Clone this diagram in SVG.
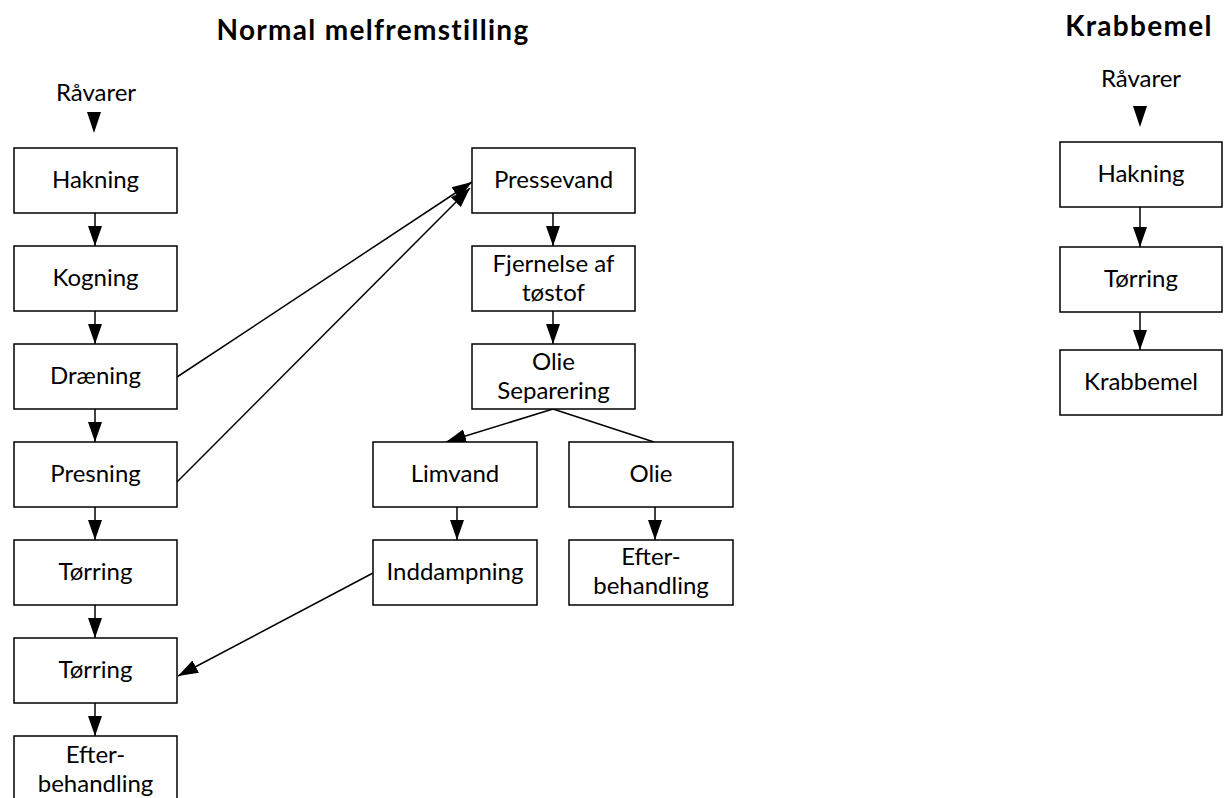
<svg xmlns="http://www.w3.org/2000/svg" width="1224" height="798" viewBox="0 0 1224 798">
<defs>
<style>
.box{fill:#fff;stroke:#000;stroke-width:1.5}
.t{font-family:Lato,"Open Sans",sans-serif;font-size:24px;fill:#000;text-anchor:middle}
.h{font-family:Lato,"Open Sans",sans-serif;font-size:28px;font-weight:bold;letter-spacing:1.3px;fill:#000;text-anchor:middle}
.c{fill:none;stroke:#000;stroke-width:1.5}
.tri{fill:#000}
</style>
<marker id="ah" markerUnits="userSpaceOnUse" markerWidth="20" markerHeight="16" viewBox="0 0 20 16" refX="20" refY="8" orient="auto">
<path d="M0,1 L20,8 L0,15 z" fill="#000"/>
</marker>
</defs>
<rect width="1224" height="798" fill="#fff"/>

<text class="h" x="373" y="40">Normal melfremstilling</text>
<text class="h" x="1139" y="36">Krabbemel</text>
<text class="t" x="96" y="101">Råvarer</text>
<text class="t" x="1141" y="87">Råvarer</text>

<g id="connectors">
<polygon class="tri" points="87,112 101,112 94,133"/>
<polygon class="tri" points="1133,106 1147,106 1140,127"/>
<line class="c" x1="95" y1="213" x2="95" y2="246" marker-end="url(#ah)"/>
<line class="c" x1="95" y1="311" x2="95" y2="344" marker-end="url(#ah)"/>
<line class="c" x1="95" y1="409" x2="95" y2="442" marker-end="url(#ah)"/>
<line class="c" x1="95" y1="507" x2="95" y2="540" marker-end="url(#ah)"/>
<line class="c" x1="95" y1="605" x2="95" y2="638" marker-end="url(#ah)"/>
<line class="c" x1="95" y1="703" x2="95" y2="736" marker-end="url(#ah)"/>
<line class="c" x1="553" y1="213" x2="553" y2="246" marker-end="url(#ah)"/>
<line class="c" x1="553" y1="311" x2="553" y2="344" marker-end="url(#ah)"/>
<line class="c" x1="553" y1="409" x2="446" y2="442" marker-end="url(#ah)"/>
<line class="c" x1="553" y1="409" x2="654" y2="442"/>
<line class="c" x1="457" y1="507" x2="457" y2="540" marker-end="url(#ah)"/>
<line class="c" x1="655" y1="507" x2="655" y2="540" marker-end="url(#ah)"/>
<line class="c" x1="177" y1="377" x2="472" y2="182" marker-end="url(#ah)"/>
<line class="c" x1="177" y1="482" x2="470" y2="188" marker-end="url(#ah)"/>
<line class="c" x1="373" y1="573" x2="178" y2="676" marker-end="url(#ah)"/>
<line class="c" x1="1140" y1="207" x2="1140" y2="247" marker-end="url(#ah)"/>
<line class="c" x1="1140" y1="312" x2="1140" y2="350" marker-end="url(#ah)"/>
</g>

<g id="hakning"><rect class="box" x="14" y="148" width="163" height="65"/><text class="t" x="95.5" y="188">Hakning</text></g>
<g id="kogning"><rect class="box" x="14" y="246" width="163" height="65"/><text class="t" x="95.5" y="286">Kogning</text></g>
<g id="draening"><rect class="box" x="14" y="344" width="163" height="65"/><text class="t" x="95.5" y="384">Dræning</text></g>
<g id="presning"><rect class="box" x="14" y="442" width="163" height="65"/><text class="t" x="95.5" y="482">Presning</text></g>
<g id="torring1"><rect class="box" x="14" y="540" width="163" height="65"/><text class="t" x="95.5" y="580">Tørring</text></g>
<g id="torring2"><rect class="box" x="14" y="638" width="163" height="65"/><text class="t" x="95.5" y="678">Tørring</text></g>
<g id="efterbehandling1"><rect class="box" x="14" y="736" width="163" height="65"/><text class="t" x="95.5" y="763">Efter-</text><text class="t" x="95.5" y="792">behandling</text></g>

<g id="pressevand"><rect class="box" x="472" y="148" width="163" height="65"/><text class="t" x="553.5" y="188">Pressevand</text></g>
<g id="fjernelse"><rect class="box" x="472" y="246" width="163" height="65"/><text class="t" x="553.5" y="272">Fjernelse af</text><text class="t" x="553.5" y="301">tøstof</text></g>
<g id="oliesep"><rect class="box" x="472" y="344" width="163" height="65"/><text class="t" x="553.5" y="370">Olie</text><text class="t" x="553.5" y="399">Separering</text></g>
<g id="limvand"><rect class="box" x="373" y="442" width="164" height="65"/><text class="t" x="455" y="482">Limvand</text></g>
<g id="olie"><rect class="box" x="569" y="442" width="164" height="65"/><text class="t" x="651" y="482">Olie</text></g>
<g id="inddampning"><rect class="box" x="373" y="540" width="164" height="65"/><text class="t" x="455" y="580">Inddampning</text></g>
<g id="efterbehandling2"><rect class="box" x="569" y="540" width="164" height="65"/><text class="t" x="651" y="565">Efter-</text><text class="t" x="651" y="594">behandling</text></g>

<g id="k-hakning"><rect class="box" x="1060" y="142" width="162" height="65"/><text class="t" x="1141" y="182">Hakning</text></g>
<g id="k-torring"><rect class="box" x="1060" y="247" width="162" height="65"/><text class="t" x="1141" y="287">Tørring</text></g>
<g id="k-krabbemel"><rect class="box" x="1060" y="350" width="162" height="65"/><text class="t" x="1141" y="390">Krabbemel</text></g>
</svg>
